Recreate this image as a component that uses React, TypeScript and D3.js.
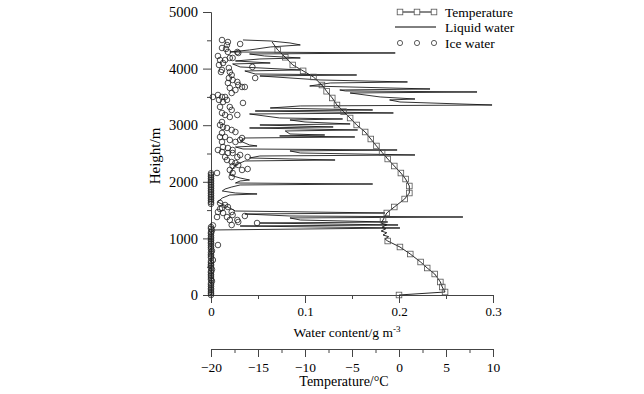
import React, { useEffect, useRef } from 'react';
import * as d3 from 'd3';

const W = 644, H = 394;

// temperature profile (m, °C); marker = 1 where a square is drawn
const tempHeight = [0, 53, 141, 230, 371, 477, 583, 724, 848, 954, 990, 1030, 1060, 1100, 1130, 1170, 1200, 1240, 1270, 1325,
	1449, 1555, 1696, 1802, 1926, 2049, 2155, 2279, 2403, 2520, 2633, 2756, 2880, 3004, 3127, 3240, 3357, 3481, 3600, 3710,
	3852, 3960, 4064, 4200, 4329, 4470];
const tempValue = [0, 4.9, 4.6, 4.4, 3.8, 3.0, 2.3, 1.2, 0.1, -1.2, -1.5, -1.1, -1.7, -1.3, -1.9, -1.4, -1.8, -1.3, -1.9, -1.7,
	-1.3, -0.5, 0.6, 1.1, 1.1, 0.7, 0.2, -0.5, -1.2, -1.8, -2.4, -3.0, -3.6, -4.5, -5.2, -5.9, -6.6, -7.1, -7.7, -8.2,
	-9.1, -10.2, -11.3, -12.1, -12.9, -13.5];
const tempMarker = [1, 1, 1, 1, 1, 1, 1, 1, 1, 1, 0, 0, 0, 0, 0, 0, 0, 0, 0, 1,
	1, 1, 1, 1, 1, 1, 1, 1, 1, 1, 1, 1, 1, 1, 1, 1, 1, 1, 1, 1,
	1, 1, 1, 1, 1, 0];

// liquid water profile (m, g m-3)
const liquidHeight = [
	4506, 4488, 4453, 4418, 4382, 4329, 4294, 4276, 4258, 4223,
	4188, 4170, 4135, 4099, 4082, 4029, 3976, 3958, 3905, 3887,
	3870, 3799, 3764, 3746, 3693, 3640, 3622, 3605, 3587, 3569,
	3499, 3463, 3446, 3410, 3357, 3340, 3304, 3269, 3251, 3216,
	3198, 3128, 3110, 3092, 3057, 3022, 3004, 2969, 2951, 2916,
	2898, 2845, 2827, 2810, 2792, 2774, 2721, 2651, 2633, 2615,
	2580, 2562, 2545, 2509, 2474, 2456, 2421, 2385, 2368, 2297,
	2209, 2120, 2067, 2032, 2014, 1979, 1961, 1944, 1908, 1873,
	1838, 1802, 1785, 1767, 1714, 1643, 1590, 1537, 1484, 1449,
	1431, 1396, 1378, 1361, 1325, 1290, 1272, 1237, 1219, 1184,
	1149, 1113, 1000, 850, 700, 500, 300, 100, 0];
const liquidValue = [
	0.034, 0.063, 0.084, 0.095, 0.063, 0.041, 0.020, 0.196, 0.041, 0.057,
	0.095, 0.052, 0.026, 0.063, 0.023, 0.031, 0.095, 0.036, 0.047, 0.155,
	0.052, 0.116, 0.209, 0.127, 0.105, 0.233, 0.137, 0.143, 0.283, 0.148,
	0.180, 0.217, 0.190, 0.201, 0.299, 0.095, 0.063, 0.172, 0.047, 0.194,
	0.041, 0.073, 0.140, 0.084, 0.100, 0.148, 0.052, 0.130, 0.041, 0.156,
	0.079, 0.084, 0.121, 0.073, 0.153, 0.036, 0.031, 0.041, 0.049, 0.026,
	0.034, 0.198, 0.084, 0.095, 0.217, 0.052, 0.041, 0.132, 0.036, 0.026,
	0.022, 0.020, 0.031, 0.041, 0.031, 0.026, 0.172, 0.031, 0.022, 0.015,
	0.012, 0.026, 0.049, 0.020, 0.012, 0.007, 0.014, 0.020, 0.026, 0.185,
	0.036, 0.084, 0.268, 0.084, 0.095, 0.188, 0.052, 0.199, 0.031, 0.201,
	0.004, 0, 0, 0, 0, 0, 0, 0, 0];

// ice water samples [height m, g m-3]
const iceWater: [number, number][] = [
	[4505, 0.0117], [4470, 0.018], [4417, 0.017], [4347, 0.016], [4364, 0.0117], [4294, 0.018], [4435, 0.031],
	[4294, 0.028], [4276, 0.029], [4223, 0.0074], [4152, 0.0096], [4099, 0.0128], [4064, 0.0085], [4152, 0.015],
	[4188, 0.020], [4188, 0.023], [3976, 0.0117], [3940, 0.0106], [4011, 0.019], [3940, 0.020], [3887, 0.022],
	[4029, 0.044], [3834, 0.047], [3834, 0.019], [3799, 0.023], [3764, 0.028], [3746, 0.018], [3711, 0.029],
	[3675, 0.033], [3675, 0.036], [3658, 0.020], [3622, 0.026], [3569, 0.022], [3499, 0.002], [3534, 0.0074],
	[3499, 0.0117], [3499, 0.015], [3446, 0.017], [3446, 0.0085], [3410, 0.0128], [3393, 0.034], [3322, 0.020],
	[3322, 0.0096], [3269, 0.022], [3216, 0.0117], [3181, 0.015], [3145, 0.020], [3181, 0.028], [3057, 0.0117],
	[3004, 0.0096], [2969, 0.0128], [2951, 0.017], [2916, 0.022], [2880, 0.026], [2863, 0.0117], [2792, 0.0096],
	[2792, 0.015], [2739, 0.020], [2704, 0.026], [2739, 0.031], [2774, 0.033], [2704, 0.0117], [2615, 0.0128],
	[2597, 0.018], [2562, 0.023], [2562, 0.0074], [2527, 0.0117], [2509, 0.018], [2509, 0.023], [2438, 0.028],
	[2474, 0.031], [2438, 0.015], [2385, 0.017], [2350, 0.022], [2332, 0.026], [2297, 0.029], [2279, 0.023],
	[2438, 0.039], [2209, 0.020], [2209, 0.033], [2226, 0.039], [2156, 0.0064], [2156, 0.023], [2085, 0.022],
	[1626, 0.0096], [1590, 0.015], [1537, 0.0117], [1467, 0.0074], [1555, 0.018], [1467, 0.022], [1378, 0.0064],
	[1378, 0.017], [1325, 0.020], [1325, 0.028], [1290, 0.029], [1237, 0.022], [1396, 0.036], [1272, 0.049],
	[1520, 0.0096], [1449, 0.0128], [1414, 0.023], [883, 0.0074]];

// ice water samples at (nearly) zero content
const iceZero: [number, number][] = [
	[0, 0], [30, 0], [55, 0], [90, 0], [115, 0], [150, 0], [180, 0], [210, 0], [245, 0.001], [270, 0],
	[300, 0], [335, 0], [360, 0], [395, 0], [420, 0], [450, 0.001], [480, 0], [515, 0], [540, 0], [570, 0],
	[600, 0], [618, 0.002], [660, 0], [690, 0], [720, 0], [755, 0], [780, 0.001], [810, 0], [840, 0], [870, 0],
	[905, 0], [930, 0], [960, 0], [990, 0], [1020, 0], [1050, 0], [1085, 0], [1110, 0], [1140, 0.001], [1170, 0],
	[1200, 0], [1230, 0.002],
	[1610, 0], [1640, 0], [1670, 0], [1700, 0], [1730, 0], [1760, 0], [1790, 0], [1820, 0], [1850, 0],
	[1880, 0], [1910, 0], [1940, 0], [1970, 0], [2000, 0], [2030, 0], [2060, 0], [2090, 0], [2120, 0], [2150, 0]];

const heightTicks = [0, 1000, 2000, 3000, 4000, 5000];
const heightMinor = [500, 1500, 2500, 3500, 4500];
const waterTicks = [0, 0.1, 0.2, 0.3];
const waterMinor = [0.05, 0.15, 0.25];
const tempTicks = [-20, -15, -10, -5, 0, 5, 10];
const tempMinor = [-17.5, -12.5, -7.5, -2.5, 2.5, 7.5];

const legendLabels = ['Temperature', 'Liquid water', 'Ice water'];

const FONT = '"Liberation Serif", "Times New Roman", serif';

export default function App() {
	const svgRef = useRef<SVGSVGElement>(null);

	useEffect(() => {
		const svg = d3.select(svgRef.current);
		svg.selectAll('*').remove();

		const x = d3.scaleLinear().domain([0, 0.3]).range([211, 493]);
		const y = d3.scaleLinear().domain([0, 5000]).range([295, 12]);
		const t = d3.scaleLinear().domain([-20, 10]).range([211, 493]);

		const styleAxis = (size) => (g) => {
			g.attr('font-family', FONT).attr('font-size', size);
			g.select('.domain').attr('stroke', '#444');
			g.selectAll('.tick line').attr('stroke', '#444');
			g.selectAll('.tick text').attr('fill', '#000');
		};

		// axes
		svg.append('g').attr('transform', 'translate(211,0)')
			.call(d3.axisLeft(y).tickValues(heightTicks).tickSize(8).tickSizeOuter(0).tickPadding(5).tickFormat(d3.format('d')))
			.call(styleAxis(14.5));
		svg.append('g').attr('transform', 'translate(211,0)')
			.call(d3.axisLeft(y).tickValues(heightMinor).tickSize(4).tickSizeOuter(0).tickFormat(() => ''))
			.call(styleAxis(13));

		svg.append('g').attr('transform', 'translate(0,295)')
			.call(d3.axisBottom(x).tickValues(waterTicks).tickSize(8).tickSizeOuter(0).tickPadding(4).tickFormat(d => d === 0 ? '0' : d3.format('.1f')(d)))
			.call(styleAxis(13));
		svg.append('g').attr('transform', 'translate(0,295)')
			.call(d3.axisBottom(x).tickValues(waterMinor).tickSize(4).tickSizeOuter(0).tickFormat(() => ''))
			.call(styleAxis(13));

		svg.append('g').attr('transform', 'translate(0,349)')
			.call(d3.axisBottom(t).tickValues(tempTicks).tickSize(8).tickSizeOuter(0).tickPadding(5).tickFormat(d3.format('d')))
			.call(styleAxis(13.5));
		svg.append('g').attr('transform', 'translate(0,349)')
			.call(d3.axisBottom(t).tickValues(tempMinor).tickSize(4).tickSizeOuter(0).tickFormat(() => ''))
			.call(styleAxis(13));

		// axis titles
		svg.append('text')
			.attr('transform', 'translate(160,156) rotate(-90)')
			.attr('text-anchor', 'middle')
			.attr('font-family', FONT).attr('font-size', 15)
			.text('Height/m');

		const wl = svg.append('text')
			.attr('x', 347).attr('y', 337)
			.attr('text-anchor', 'middle')
			.attr('font-family', FONT).attr('font-size', 13.5);
		wl.append('tspan').text('Water content/g m');
		wl.append('tspan').attr('font-size', 9).attr('dy', -5).text('-3');

		svg.append('text')
			.attr('x', 344).attr('y', 386)
			.attr('text-anchor', 'middle')
			.attr('font-family', FONT).attr('font-size', 14)
			.text('Temperature/°C');

		// liquid water
		const liquid = d3.zip(liquidHeight, liquidValue);
		svg.append('path')
			.datum(liquid)
			.attr('fill', 'none')
			.attr('stroke', '#000')
			.attr('stroke-width', 0.8)
			.attr('stroke-linejoin', 'miter')
			.attr('stroke-miterlimit', 2)
			.attr('d', d3.line().x(d => x(d[1])).y(d => y(d[0])));

		// ice water
		svg.append('g').selectAll('circle')
			.data(iceZero.concat(iceWater))
			.enter()
			.append('circle')
			.attr('cx', d => x(d[1]))
			.attr('cy', d => y(d[0]))
			.attr('r', 2.8)
			.attr('fill', 'none')
			.attr('stroke', '#222')
			.attr('stroke-width', 0.8);

		// temperature
		const temp = d3.zip(tempHeight, tempValue, tempMarker);
		svg.append('path')
			.datum(temp)
			.attr('fill', 'none')
			.attr('stroke', '#111')
			.attr('stroke-width', 0.9)
			.attr('d', d3.line().x(d => t(d[1])).y(d => y(d[0])));
		svg.append('g').selectAll('rect')
			.data(temp.filter(d => d[2] === 1))
			.enter()
			.append('rect')
			.attr('x', d => t(d[1]) - 2.8)
			.attr('y', d => y(d[0]) - 2.8)
			.attr('width', 5.6)
			.attr('height', 5.6)
			.attr('fill', 'none')
			.attr('stroke', '#555')
			.attr('stroke-width', 0.8);

		// legend
		const lg = svg.append('g').attr('font-family', FONT).attr('font-size', 13.5);
		const rowY = [12, 27, 43];
		const symX = [400, 417, 434];
		lg.append('line').attr('x1', 397).attr('x2', 436).attr('y1', rowY[0]).attr('y2', rowY[0]).attr('stroke', '#111');
		symX.forEach(sx => {
			lg.append('rect').attr('x', sx - 2.8).attr('y', rowY[0] - 2.8).attr('width', 5.6).attr('height', 5.6)
				.attr('fill', '#fff').attr('stroke', '#555').attr('stroke-width', 0.8);
			lg.append('circle').attr('cx', sx).attr('cy', rowY[2]).attr('r', 2.6)
				.attr('fill', 'none').attr('stroke', '#333').attr('stroke-width', 0.8);
		});
		lg.append('line').attr('x1', 395).attr('x2', 436).attr('y1', rowY[1]).attr('y2', rowY[1]).attr('stroke', '#000');
		legendLabels.forEach((s, i) => {
			lg.append('text').attr('x', 445).attr('y', rowY[i] + 4.5).text(s);
		});
	}, []);

	return (
		<div style={{ position: 'absolute', left: 0, top: 0 }}>
			<svg ref={svgRef} width={W} height={H} style={{ display: 'block', background: '#fff' }} />
		</div>
	);
}
